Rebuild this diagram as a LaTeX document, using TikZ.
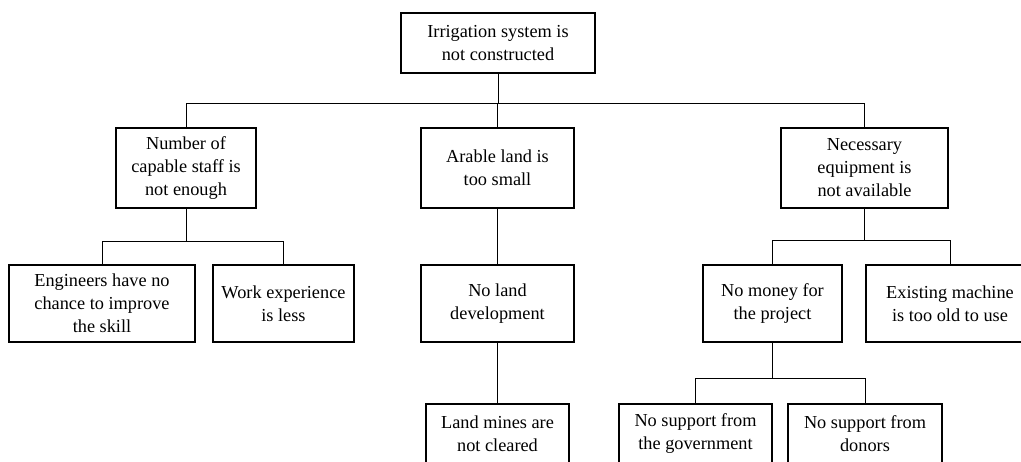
\documentclass[tikz,border=0pt]{standalone}
\usepackage{fontspec}
\setmainfont{Liberation Serif}
\tikzset{
  cause/.style={draw, line width=2.5pt, fill=white, align=center, inner sep=0pt,
    font=\fontsize{18.3}{23}\selectfont},
  link/.style={line width=1pt}
}
\begin{document}
\begin{tikzpicture}[x=1pt,y=-1pt]
\useasboundingbox (0,0) rectangle (1021,461);
\clip (0,0) rectangle (1021,461);

% problem at the top
\node[cause, minimum width=194pt, minimum height=60pt] (top) at (498,43)
  {Irrigation system is\\not constructed};

% direct causes
\node[cause, minimum width=140pt, minimum height=80pt] (staff) at (186,168)
  {Number of\\capable staff is\\not enough};
\node[cause, minimum width=153pt, minimum height=80pt] (land) at (497.5,168)
  {Arable land is\\too small};
\node[cause, minimum width=167pt, minimum height=80pt] (equip) at (864.5,168)
  {Necessary\\equipment is\\not available};

% second level
\node[cause, minimum width=186pt, minimum height=77pt] (eng) at (102,303.5)
  {Engineers have no\\chance to improve\\the skill};
\node[cause, minimum width=141pt, minimum height=77pt] (work) at (283.5,303.5)
  {Work experience\\is less};
\node[cause, minimum width=153pt, minimum height=77pt] (dev) at (497.5,303.5)
  {No land\\development};
\node[cause, minimum width=139pt, minimum height=77pt] (money) at (772.5,303.5)
  {No money for\\the project};
% this box runs on past the right edge of the page
\draw[line width=2.5pt, fill=white] (866,265) rectangle (1060,342);
\node[cause, draw=none, fill=none, minimum width=168pt, minimum height=77pt] (old) at (950,303.5)
  {Existing machine\\is too old to use};

% third level
\node[cause, minimum width=143pt, minimum height=60pt] (mines) at (497.5,434)
  {Land mines are\\not cleared};
\node[cause, minimum width=153pt, minimum height=60pt] (gov) at (695.5,434)
  {No support from\\the government};
\node[cause, minimum width=154pt, minimum height=60pt] (donor) at (865,434)
  {No support from\\donors};

% branch levels
\coordinate (b0) at (0,103);
\coordinate (b1) at (0,241);
\coordinate (b2) at (0,240);
\coordinate (b3) at (0,378);

\draw[link] (top.south) -- (top.south |- b0);
\draw[link] (staff.north) |- (equip.north |- b0) -- (equip.north);
\draw[link] (land.north) -- (land.north |- b0);

\draw[link] (staff.south) -- (staff.south |- b1);
\draw[link] (eng.north) |- (work.north |- b1) -- (work.north);

\draw[link] (land.south) -- (dev.north);
\draw[link] (dev.south) -- (mines.north);

\draw[link] (equip.south) -- (equip.south |- b2);
\draw[link] (money.north) |- (old.north |- b2) -- (old.north);

\draw[link] (money.south) -- (money.south |- b3);
\draw[link] (gov.north) |- (donor.north |- b3) -- (donor.north);
\end{tikzpicture}
\end{document}
